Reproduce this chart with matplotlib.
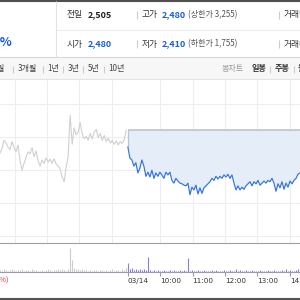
import matplotlib
matplotlib.use("Agg")
import matplotlib.pyplot as plt
import numpy as np

plt.rcParams['font.family'] = ['Noto Sans CJK KR', 'DejaVu Sans']

# quote header values
prev_close = 2505
open_price = 2480
high_price = 2480
low_price = 2410
upper_limit = 3255
lower_limit = 1755
change_pct = -2.59

# previous sessions (gray line) and today (blue line)
prev_prices = [2471, 2478, 2490, 2486, 2480, 2476, 2488, 2479, 2473, 2483,
               2460, 2446, 2456, 2465, 2473, 2470, 2479, 2466, 2474, 2460,
               2452, 2461, 2456, 2464, 2458, 2462, 2456, 2463, 2455, 2452,
               2448, 2436, 2429, 2450, 2466, 2527, 2484, 2508, 2498, 2502,
               2516, 2500, 2492, 2496, 2490, 2500, 2492, 2502, 2506, 2494,
               2500, 2490, 2497, 2488, 2493, 2486, 2490, 2484, 2489, 2483,
               2488, 2485, 2491, 2505]
today_prices = [2480, 2464, 2461, 2452, 2457, 2442, 2449, 2461, 2452, 2437,
                2443, 2436, 2446, 2434, 2442, 2437, 2443, 2439, 2434, 2443,
                2439, 2443, 2431, 2427, 2434, 2430, 2427, 2426, 2424, 2423,
                2427, 2410, 2421, 2417, 2424, 2411, 2420, 2412, 2420, 2423,
                2426, 2429, 2434, 2431, 2437, 2433, 2437, 2434, 2439, 2436,
                2440, 2434, 2439, 2427, 2417, 2423, 2417, 2421, 2418, 2423,
                2426, 2429, 2423, 2429, 2426, 2431, 2424, 2427, 2430, 2427,
                2431, 2429, 2434, 2427, 2415, 2426, 2420, 2429, 2418, 2427,
                2421, 2430, 2426, 2431, 2434, 2440, 2442]

prev_volume = [2, 1, 3, 2, 1, 2, 3, 2, 1, 2,
               2, 3, 1, 2, 2, 1, 3, 2, 2, 1,
               1, 2, 1, 2, 3, 2, 1, 2, 2, 3,
               2, 3, 2, 1, 3, 24, 12, 4, 3, 3,
               2, 3, 2, 2, 1, 2, 1, 2, 2, 1,
               2, 2, 1, 2, 1, 2, 3, 1, 2, 2,
               1, 3, 2, 4]
today_volume = [9, 3, 4, 2, 3, 2, 3, 2, 3, 2, 15,
                2, 1, 2, 1, 2, 1, 1, 2, 1,
                1, 2, 1, 2, 1, 1, 2, 1, 2, 1,
                14, 1, 2, 1, 1, 2, 1, 1, 2, 1,
                1, 1, 2, 1, 2, 1, 1, 1, 2, 1,
                1, 2, 1, 1, 3, 1, 2, 1, 1, 2,
                1, 1, 2, 1, 1, 1, 2, 1, 1, 1,
                2, 1, 1, 2, 1, 1, 1, 2, 1, 3,
                1, 2, 1, 1, 2, 3, 2]

tick_minutes = [0, 60, 120, 180, 240, 300]
tick_labels = ['03/14', '10:00', '11:00', '12:00', '13:00', '14:00']

# minutes relative to today's 09:00 open
x_min, x_max = -237, 319
today_x = np.linspace(0, x_max, len(today_prices))
prev_x = np.linspace(x_min, -3, len(prev_prices))

BLUE = '#1a5fd6'
fig = plt.figure(figsize=(3, 3), dpi=100)

# background / header drawn in pixel coords
bg = fig.add_axes([0, 0, 1, 1])
bg.set_xlim(0, 300)
bg.set_ylim(300, 0)
bg.axis('off')
bg.axhline(0.7, color='#505050', lw=1.5)
bg.fill_between([0, 300], 57, 79, color='#f7f7f7', lw=0)
bg.axhline(57, color='#d8d8d8', lw=0.8)
bg.axhline(79, color='#e4e4e4', lw=0.8)
bg.vlines(55.5, 1, 57, color='#e2e2e2', lw=0.8)
bg.hlines(30, 56, 300, color='#eeeeee', lw=0.8)
bg.axhline(298.5, color='#555555', lw=1.5)

bg.text(12.5, 42, f"{change_pct:.2f}%", color=BLUE, fontsize=9, fontweight='bold',
        ha='right', va='center')

rows = [(15, '전일', f"{prev_close:,}", '#222222', '고가', high_price, '상한가', upper_limit, '거래량'),
        (44, '시가', f"{open_price:,}", BLUE, '저가', low_price, '하한가', lower_limit, '거래대금')]
for y, lab1, val1, c1, lab2, val2, lab3, val3, lab4 in rows:
    bg.text(67, y, lab1, color='#333333', fontsize=6.3, va='center')
    bg.text(88, y, val1, color=c1, fontsize=6.5, fontweight='bold', va='center')
    bg.vlines([137, 279], y - 4, y + 4, color='#cccccc', lw=0.8)
    bg.text(142, y, lab2, color='#333333', fontsize=6.3, va='center')
    bg.text(162, y, f"{val2:,}", color=BLUE, fontsize=6.5, fontweight='bold', va='center')
    bg.text(188, y, f"({lab3} {val3:,})", color='#555555', fontsize=5.8, va='center')
    bg.text(284, y, lab4, color='#333333', fontsize=6.3, va='center')

# period tabs
bg.text(5, 69, '6개월', color='#444444', fontsize=5.8, ha='right', va='center')
for x, s in [(18, '3개월'), (47, '1년'), (68, '3년'), (88, '5년'), (108, '10년')]:
    bg.text(x, 69, s, color='#444444', fontsize=5.8, va='center')
bg.vlines([13, 43, 63, 83, 104], 65.5, 72.5, color='#cccccc', lw=0.8)
bg.text(222, 69, '봉차트', color='#999999', fontsize=5.8, va='center')
bg.text(252, 69, '일봉', color='#333333', fontsize=5.8, fontweight='bold', va='center')
bg.text(275, 69, '주봉', color='#333333', fontsize=5.8, fontweight='bold', va='center')
bg.text(298, 69, '월봉', color='#333333', fontsize=5.8, fontweight='bold', va='center')
bg.vlines([270, 294], 65.5, 72.5, color='#cccccc', lw=0.8)
bg.text(9, 281, '(+29.94%)', color='#e0323c', fontsize=5.5, ha='right', va='center')

# price chart
ax = fig.add_axes([0, 57 / 300, 1, 163 / 300])
ax.patch.set_alpha(0)
ax.set_xlim(x_min, x_max)
ax.set_ylim(2339, 2578.5)
for v in [-210, -150, -90, -30, 60, 120, 180, 240, 300]:
    ax.axvline(v, color='#eeeeee', lw=0.8, zorder=0)
for h in [2543, 2495, 2446, 2398, 2349]:
    ax.axhline(h, color='#eeeeee', lw=0.8, zorder=0)
ax.fill_between(today_x, today_prices, prev_close, color='#e5edf9', lw=0, zorder=1)
ax.hlines(prev_close, 0, x_max, color='#bcc3ce', lw=1.2, zorder=2)
ax.vlines(0, today_prices[0], prev_close, color='#bcc3ce', lw=0.9, zorder=2)
ax.plot(prev_x, prev_prices, color='#d0d0d0', lw=0.8, zorder=3)
ax.plot(today_x, today_prices, color='#3373de', lw=0.85, zorder=3)
ax.set_xticks([])
ax.set_yticks([])
for s in ['top', 'left', 'right']:
    ax.spines[s].set_visible(False)
ax.spines['bottom'].set_color('#a0a0a0')

# volume
vax = fig.add_axes([0, 28 / 300, 1, 29 / 300])
vax.patch.set_alpha(0)
vax.set_xlim(x_min, x_max)
vax.set_ylim(0, max(prev_volume) * 1.2)
vax.vlines(prev_x, 0, prev_volume, color='#cccccc', lw=0.8)
vax.vlines(today_x, 0, today_volume, color='#8a80d2', lw=0.8)
for s in ['top', 'left', 'right']:
    vax.spines[s].set_visible(False)
vax.spines['bottom'].set_color('#9c98b6')
vax.set_yticks([])
vax.set_xticks(tick_minutes)
vax.set_xticklabels(tick_labels, fontsize=5.2, color='#333333', ha='left',
                    family=['DejaVu Sans'])
vax.tick_params(axis='x', length=3, color='#9c98b6', pad=1.5)

fig.savefig('out.png', dpi=100)
